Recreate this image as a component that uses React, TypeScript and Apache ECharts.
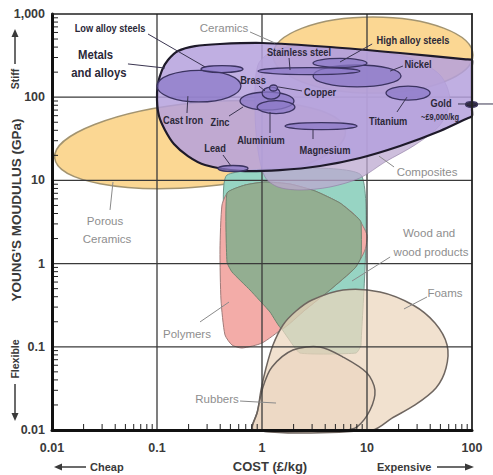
import React, { useEffect, useRef } from "react";
import * as echarts from "echarts";

const FONT = "'Liberation Sans', Arial, Helvetica, sans-serif";

// ---------- axes ----------
const xTicks = [0.01, 0.1, 1, 10, 100];
const xTickLabels = ["0.01", "0.1", "1", "10", "100"];
const yTicks = [0.01, 0.1, 1, 10, 100, 1000];
const yTickLabels = ["0.01", "0.1", "1", "10", "100", "1,000"];
const xGridLines = [0.1, 1, 10];
const yGridLines = [0.1, 1, 10, 100];
const minorSteps = [2, 3, 4, 5, 6, 7, 8, 9];
const xDecades = [0.01, 0.1, 1, 10];
const yDecades = [0.01, 0.1, 1, 10, 100];

// ---------- family envelopes: [cost £/kg, Young's modulus GPa] ----------
const metalsEnvelope = [
  [0.1, 92.5], [0.1022, 144], [0.1116, 212], [0.1272, 280], [0.1585, 359], [0.23, 412],
  [0.398, 436], [1.0, 448], [4.44, 401], [20.6, 340], [87.6, 285], [100, 280], [100, 237],
  [100, 70.2], [100, 59.4], [87.6, 54.7], [49.6, 39.2], [20.6, 25.9], [8.58, 18.6],
  [3.57, 14.9], [1.48, 13.3], [0.618, 13.0], [0.287, 15.3], [0.197, 19.6], [0.145, 27.4],
  [0.119, 40.4], [0.1045, 59.4],
];
const compositesEnvelope = [
  [0.915, 244], [1.33, 369], [2.87, 412], [8.58, 369], [25.7, 296], [49.6, 185], [61.7, 92.5],
  [49.6, 46.3], [28.7, 26.7], [14.8, 16.6], [8.58, 10.7], [4.44, 8.33], [2.3, 7.67],
  [1.42, 8.33], [1.068, 11], [0.915, 23.2], [0.858, 70.2],
];
const woodEnvelope = [
  [0.464, 11.6], [8.77, 11.6], [8.77, 0.105], [7.86, 0.0842], [2.3, 0.0842], [1.769, 0.1276],
  [1.192, 0.262], [0.769, 0.481], [0.518, 0.792], [0.464, 1.045],
];
const polymersEnvelope = [
  [0.416, 5.06], [0.475, 7.25], [0.689, 8.8], [1.068, 9.57], [1.849, 9.05], [3.2, 7.46],
  [5.53, 5.35], [8.21, 3.53], [10, 2.2], [9.57, 1.46], [7.69, 0.885], [4.44, 0.482],
  [2.57, 0.277], [1.585, 0.168], [1.0, 0.111], [0.645, 0.0967], [0.518, 0.105],
  [0.444, 0.139], [0.407, 0.365], [0.398, 1.46],
];
const woodPolymerOverlap = [
  [0.464, 7.06], [0.689, 8.8], [1.068, 9.57], [1.849, 9.05], [3.2, 7.46], [5.53, 5.35],
  [8.21, 3.53], [8.77, 3.16], [8.77, 1.2], [7.69, 0.885], [4.44, 0.482], [2.57, 0.277],
  [1.551, 0.164], [1.192, 0.262], [0.769, 0.481], [0.518, 0.792], [0.464, 1.045],
];
const foamsEnvelope = [
  [0.839, 0.01], [0.915, 0.0174], [0.978, 0.0302], [1.092, 0.0557], [1.272, 0.105],
  [1.585, 0.183], [2.11, 0.269], [2.994, 0.365], [5.91, 0.481], [13.3, 0.456], [27.4, 0.318],
  [44.4, 0.193], [57.9, 0.105], [56.6, 0.0556], [45.4, 0.032], [28.7, 0.02], [17.3, 0.0139],
  [11.2, 0.01],
];
const rubbersEnvelope = [
  [0.821, 0.01], [0.897, 0.016], [1.022, 0.0329], [1.245, 0.0572], [1.97, 0.0915],
  [3.57, 0.0994], [5.91, 0.0753], [10, 0.0484], [11.9, 0.0302], [10.7, 0.0174],
  [8.04, 0.0109], [6.18, 0.01],
];

// ---------- ellipses: centre cost, centre modulus, half-width (decades), half-height (decades), tilt ----------
const ceramicEllipses = [
  { name: "Ceramics", cost: 11.4, mod: 321, a: 0.952, b: 0.457, tilt: 0 },
  { name: "Porous ceramics", cost: 0.257, mod: 27.0, a: 1.39, b: 0.505, tilt: 5.3 },
];
const metalEllipses = [
  { name: "Cast Iron", cost: 0.251, mod: 136, a: 0.4, b: 0.19 },
  { name: "Low alloy steels", cost: 0.416, mod: 218, a: 0.2, b: 0.042 },
  { name: "Nickel", cost: 8.04, mod: 180, a: 0.419, b: 0.132 },
  { name: "High alloy steels", cost: 5.53, mod: 258, a: 0.257, b: 0.054 },
  { name: "Stainless steel", cost: 2.8, mod: 206, a: 0.486, b: 0.042 },
  { name: "Titanium", cost: 24.6, mod: 112, a: 0.21, b: 0.084 },
  { name: "Zinc", cost: 1.116, mod: 90, a: 0.257, b: 0.108 },
  { name: "Aluminium", cost: 1.36, mod: 76, a: 0.18, b: 0.078 },
  { name: "Brass", cost: 1.22, mod: 112, a: 0.086, b: 0.072 },
  { name: "Copper", cost: 1.287, mod: 129, a: 0.038, b: 0.036 },
  { name: "Magnesium", cost: 3.65, mod: 45, a: 0.343, b: 0.042 },
  { name: "Lead", cost: 0.529, mod: 13.9, a: 0.143, b: 0.036 },
  { name: "Gold", cost: 99, mod: 81.7, a: 0.057, b: 0.034 },
];

// ---------- leader lines ----------
const darkLeaders = [
  [[0.0821, 575], [0.287, 231]],
  [[0.0529, 251], [0.119, 224]],
  [[1.81, 296], [1.85, 212]],
  [[11.2, 436], [5.53, 265]],
  [[22.0, 237], [16.6, 206]],
  [[0.936, 136], [1.068, 119]],
  [[2.4, 119], [1.42, 133]],
  [[0.193, 64.6], [0.197, 103]],
  [[0.485, 59.4], [0.66, 76.3]],
  [[1.192, 37.1], [1.192, 66.4]],
  [[3.06, 31.4], [3.06, 41.5]],
  [[19.3, 66.4], [24.0, 100]],
  [[73.6, 82.9], [158.5, 82.9]],
  [[0.425, 20.2], [0.507, 14.9]],
];
const grayLeaders = [
  [[0.769, 608], [1.33, 448]],
  [[18.1, 14.5], [13.0, 19.6]],
  [[0.0357, 4.41], [0.0381, 9.57]],
  [[16.6, 1.2], [7.2, 0.618]],
  [[37.3, 0.397], [22.5, 0.285]],
  [[0.257, 0.199], [0.485, 0.345]],
  [[0.618, 0.0223], [1.36, 0.0211]],
];

// ---------- labels: text, cost, modulus, style ----------
const chartLabels = [
  ["Low alloy steels", 0.0357, 679, "dark"],
  ["Metals", 0.026, 322, "big"],
  ["and alloys", 0.028, 195, "big"],
  ["Stainless steel", 2.25, 349, "dark"],
  ["High alloy steels", 27.4, 487, "dark"],
  ["Nickel", 30.6, 250, "dark"],
  ["Brass", 0.821, 161, "dark"],
  ["Copper", 3.57, 115, "dark"],
  ["Cast Iron", 0.177, 53.2, "dark"],
  ["Zinc", 0.398, 50.3, "dark"],
  ["Aluminium", 0.978, 30.6, "dark"],
  ["Magnesium", 3.98, 23.2, "dark"],
  ["Titanium", 15.9, 51.8, "dark"],
  ["Gold", 50.7, 85.2, "dark"],
  ["~£9,000/kg", 49.6, 57.8, "small"],
  ["Lead", 0.357, 24.5, "dark"],
  ["Ceramics", 0.435, 679, "gray"],
  ["Composites", 37.3, 12.6, "gray"],
  ["Porous", 0.032, 3.25, "gray"],
  ["Ceramics", 0.0334, 1.98, "gray"],
  ["Wood and", 39.0, 2.33, "gray"],
  ["wood products", 40.7, 1.38, "gray"],
  ["Foams", 55.3, 0.443, "gray"],
  ["Polymers", 0.193, 0.1425, "gray"],
  ["Rubbers", 0.373, 0.0236, "gray"],
];

const labelStyles: any = {
  dark: { size: 10.5, weight: "bold", fill: "#2b2838", sx: 0.88 },
  big: { size: 13, weight: "bold", fill: "#2b2838", sx: 0.87 },
  small: { size: 8.5, weight: "bold", fill: "#2b2838", sx: 0.88 },
  gray: { size: 11.5, weight: "normal", fill: "#8e8e8e", sx: 1 },
};

function polygonSeries(shapes: any[], z: number) {
  return {
    type: "custom",
    coordinateSystem: "cartesian2d",
    z,
    silent: true,
    data: shapes.map((s) => s.pts[0]),
    renderItem: (params: any, api: any) => {
      const s = shapes[params.dataIndex];
      return {
        type: "polygon",
        shape: { points: s.pts.map((p: number[]) => api.coord(p)), smooth: s.smooth },
        style: { fill: s.fill, stroke: s.stroke, lineWidth: s.lw },
      };
    },
  };
}

function ellipseSeries(list: any[], z: number, styleFn: (e: any) => any) {
  return {
    type: "custom",
    coordinateSystem: "cartesian2d",
    z,
    silent: true,
    data: list.map((e) => [e.cost, e.mod]),
    renderItem: (params: any, api: any) => {
      const e = list[params.dataIndex];
      const c = api.coord([e.cost, e.mod]);
      const px = api.coord([e.cost * Math.pow(10, e.a), e.mod]);
      const py = api.coord([e.cost, e.mod * Math.pow(10, e.b)]);
      return {
        type: "ellipse",
        shape: { cx: c[0], cy: c[1], rx: px[0] - c[0], ry: c[1] - py[1] },
        rotation: ((e.tilt || 0) * Math.PI) / 180,
        originX: c[0],
        originY: c[1],
        style: styleFn(e),
      };
    },
  };
}

function lineSeries(segments: number[][][], z: number, color: string, width: number) {
  return {
    type: "custom",
    coordinateSystem: "cartesian2d",
    z,
    silent: true,
    data: [[1, 1]],
    renderItem: (params: any, api: any) => ({
      type: "group",
      children: segments.map((seg) => {
        const a = api.coord(seg[0]);
        const b = api.coord(seg[1]);
        return {
          type: "line",
          shape: { x1: a[0], y1: a[1], x2: b[0], y2: b[1] },
          style: { stroke: color, lineWidth: width },
        };
      }),
    }),
  };
}

function labelOf(list: number[], labels: string[], v: number) {
  const i = list.findIndex((t) => Math.abs(v / t - 1) < 1e-6);
  return i >= 0 ? labels[i] : "";
}

export default function App() {
  const ref = useRef<HTMLDivElement>(null);

  useEffect(() => {
    document.body.style.margin = "0";
    if (!ref.current) return;
    const chart = echarts.init(ref.current, undefined, { renderer: "svg" });

    const gridSegments: number[][][] = [
      ...xGridLines.map((x) => [[x, 0.01], [x, 1000]]),
      ...yGridLines.map((y) => [[0.01, y], [100, y]]),
    ];

    const minorX: number[] = [];
    xDecades.forEach((d) => minorSteps.forEach((m) => minorX.push(d * m)));
    const minorY: number[] = [];
    yDecades.forEach((d) => minorSteps.forEach((m) => minorY.push(d * m)));

    const minorTickSeries = {
      type: "custom",
      coordinateSystem: "cartesian2d",
      z: 9,
      silent: true,
      data: [[1, 1]],
      renderItem: (params: any, api: any) => {
        const children: any[] = [];
        minorX.forEach((v) => {
          const p = api.coord([v, 0.01]);
          children.push({
            type: "line",
            shape: { x1: p[0], y1: p[1], x2: p[0], y2: p[1] - 6 },
            style: { stroke: "#222", lineWidth: 1 },
          });
        });
        minorY.forEach((v) => {
          const p = api.coord([0.01, v]);
          children.push({
            type: "line",
            shape: { x1: p[0], y1: p[1], x2: p[0] + 6, y2: p[1] },
            style: { stroke: "#222", lineWidth: 1 },
          });
        });
        return { type: "group", children };
      },
    };

    const labelSeries = {
      type: "custom",
      coordinateSystem: "cartesian2d",
      z: 8,
      silent: true,
      data: chartLabels.map((l) => [l[1], l[2]]),
      renderItem: (params: any, api: any) => {
        const l = chartLabels[params.dataIndex];
        const st = labelStyles[l[3] as string];
        const p = api.coord([l[1], l[2]]);
        return {
          type: "text",
          x: p[0],
          y: p[1],
          scaleX: st.sx,
          style: {
            text: l[0],
            fill: st.fill,
            fontSize: st.size,
            fontWeight: st.weight,
            fontFamily: FONT,
            align: "center",
            verticalAlign: "middle",
          },
        };
      },
    };

    const axisText = { color: "#3a3a3a", fontWeight: "bold", fontSize: 12.5, fontFamily: FONT };

    const option: any = {
      animation: false,
      backgroundColor: "#ffffff",
      grid: { left: 52, right: 21, top: 14, bottom: 45, containLabel: false },
      xAxis: [
        {
          type: "log",
          logBase: 10,
          min: 0.01,
          max: 100,
          position: "bottom",
          z: 10,
          axisLine: { show: true, onZero: false, lineStyle: { color: "#111", width: 3 } },
          axisTick: { show: false },
          minorTick: { show: false },
          splitLine: { show: false },
          axisLabel: { ...axisText, margin: 11, formatter: (v: number) => labelOf(xTicks, xTickLabels, v) },
        },
        {
          type: "log",
          logBase: 10,
          min: 0.01,
          max: 100,
          position: "top",
          z: 10,
          axisLine: { show: true, onZero: false, lineStyle: { color: "#222", width: 1.5 } },
          axisTick: { show: false },
          splitLine: { show: false },
          axisLabel: { show: false },
        },
      ],
      yAxis: [
        {
          type: "log",
          logBase: 10,
          min: 0.01,
          max: 1000,
          position: "left",
          z: 10,
          axisLine: { show: true, onZero: false, lineStyle: { color: "#111", width: 3 } },
          axisTick: { show: false },
          minorTick: { show: false },
          splitLine: { show: false },
          axisLabel: { ...axisText, margin: 7, formatter: (v: number) => labelOf(yTicks, yTickLabels, v) },
        },
        {
          type: "log",
          logBase: 10,
          min: 0.01,
          max: 1000,
          position: "right",
          z: 10,
          axisLine: { show: true, onZero: false, lineStyle: { color: "#222", width: 1.8 } },
          axisTick: { show: false },
          splitLine: { show: false },
          axisLabel: { show: false },
        },
      ],
      series: [
        ellipseSeries(ceramicEllipses, 1, () => ({ fill: "#fbd793", stroke: "#a39470", lineWidth: 1.5 })),
        polygonSeries([{ pts: woodEnvelope, smooth: 0.15, fill: "#97d4c3", stroke: "#6f978c", lw: 1 }], 2),
        polygonSeries([{ pts: polymersEnvelope, smooth: 0.2, fill: "#f3aca8", stroke: "#a07c7a", lw: 1 }], 2),
        polygonSeries([{ pts: woodPolymerOverlap, smooth: 0.15, fill: "#93ae91", stroke: "#6f8570", lw: 1 }], 2),
        polygonSeries([{ pts: foamsEnvelope, smooth: 0.3, fill: "rgba(236,214,188,0.72)", stroke: "#6f6660", lw: 1.5 }], 2),
        polygonSeries([{ pts: rubbersEnvelope, smooth: 0.3, fill: "rgba(228,204,178,0.35)", stroke: "#6a625d", lw: 1.5 }], 2),
        lineSeries(gridSegments, 3, "#3a3a3a", 1.3),
        polygonSeries([{ pts: compositesEnvelope, smooth: 0.3, fill: "rgba(188,168,208,0.75)", stroke: "rgba(140,120,160,0.6)", lw: 1 }], 4),
        polygonSeries([{ pts: metalsEnvelope, smooth: 0.25, fill: "rgba(180,160,220,0.84)", stroke: "#1e1a2a", lw: 2.2 }], 5),
        ellipseSeries(metalEllipses, 6, (e) => ({
          fill: e.name === "Gold" ? "#2a2438" : "rgba(140,122,200,0.75)",
          stroke: "#3b3360",
          lineWidth: 1.3,
        })),
        lineSeries(darkLeaders, 7, "#3a3550", 1),
        lineSeries(grayLeaders, 7, "#8a8a8a", 1),
        labelSeries,
        minorTickSeries,
      ],
      graphic: [
        {
          type: "text", x: 16, y: 210, rotation: Math.PI / 2, z: 20,
          style: { text: "YOUNG'S MOUDULUS (GPa)", fill: "#3a3a3a", fontSize: 13.5, fontWeight: "bold", fontFamily: FONT, align: "center", verticalAlign: "middle" },
        },
        {
          type: "text", x: 15, y: 79, rotation: Math.PI / 2, z: 20,
          style: { text: "Stiff", fill: "#3a3a3a", fontSize: 10.5, fontWeight: "bold", fontFamily: FONT, align: "center", verticalAlign: "middle" },
        },
        { type: "line", z: 20, shape: { x1: 15, y1: 64, x2: 15, y2: 36 }, style: { stroke: "#3a3a3a", lineWidth: 1.5 } },
        { type: "polygon", z: 20, shape: { points: [[15, 29], [11.5, 37], [18.5, 37]] }, style: { fill: "#3a3a3a" } },
        {
          type: "text", x: 15, y: 359, rotation: Math.PI / 2, z: 20,
          style: { text: "Flexible", fill: "#3a3a3a", fontSize: 10.5, fontWeight: "bold", fontFamily: FONT, align: "center", verticalAlign: "middle" },
        },
        { type: "line", z: 20, shape: { x1: 15, y1: 384, x2: 15, y2: 413 }, style: { stroke: "#3a3a3a", lineWidth: 1.5 } },
        { type: "polygon", z: 20, shape: { points: [[15, 421], [11.5, 413], [18.5, 413]] }, style: { fill: "#3a3a3a" } },
        {
          type: "text", x: 270, y: 466, z: 20,
          style: { text: "COST (£/kg)", fill: "#3a3a3a", fontSize: 13, fontWeight: "bold", fontFamily: FONT, align: "center", verticalAlign: "middle" },
        },
        {
          type: "text", x: 90, y: 467, z: 20,
          style: { text: "Cheap", fill: "#3a3a3a", fontSize: 11, fontWeight: "bold", fontFamily: FONT, align: "left", verticalAlign: "middle" },
        },
        { type: "line", z: 20, shape: { x1: 61, y1: 467, x2: 86, y2: 467 }, style: { stroke: "#3a3a3a", lineWidth: 1.5 } },
        { type: "polygon", z: 20, shape: { points: [[54, 467], [62, 463.5], [62, 470.5]] }, style: { fill: "#3a3a3a" } },
        {
          type: "text", x: 377, y: 467, z: 20,
          style: { text: "Expensive", fill: "#3a3a3a", fontSize: 11, fontWeight: "bold", fontFamily: FONT, align: "left", verticalAlign: "middle" },
        },
        { type: "line", z: 20, shape: { x1: 437, y1: 467, x2: 466, y2: 467 }, style: { stroke: "#3a3a3a", lineWidth: 1.5 } },
        { type: "polygon", z: 20, shape: { points: [[474, 467], [465, 463.5], [465, 470.5]] }, style: { fill: "#3a3a3a" } },
      ],
    };

    chart.setOption(option);
    return () => chart.dispose();
  }, []);

  return <div ref={ref} style={{ width: 493, height: 475 }} />;
}
